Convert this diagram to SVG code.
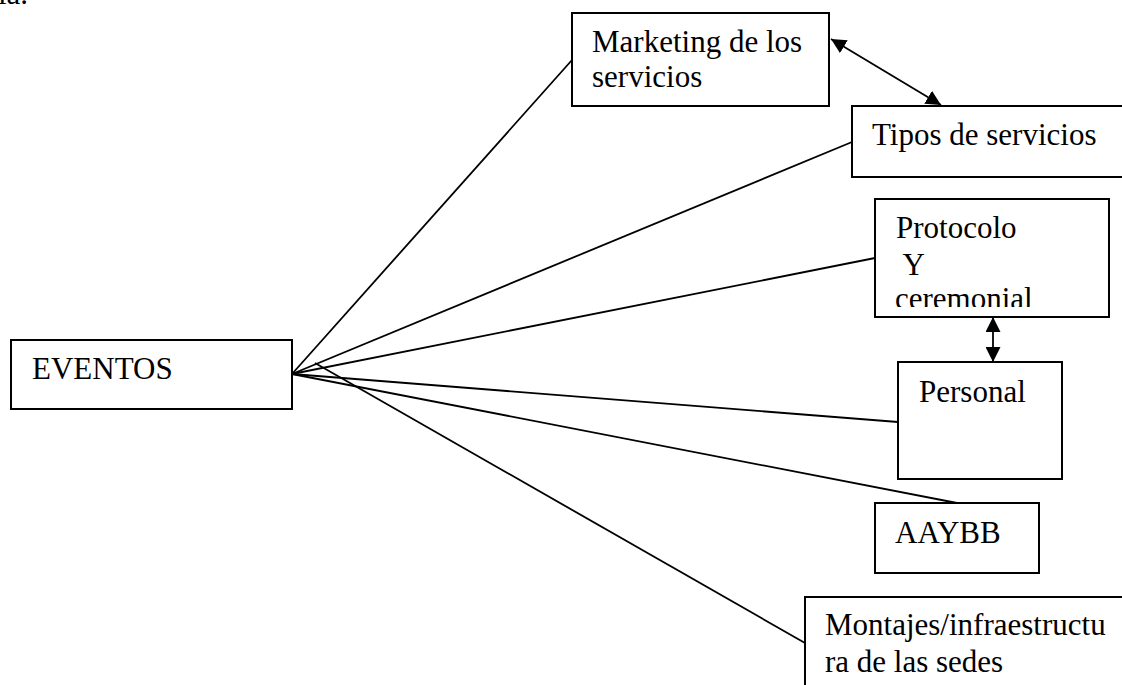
<svg xmlns="http://www.w3.org/2000/svg" width="1122" height="685" viewBox="0 0 1122 685">
<style>
.box{fill:#fff;stroke:#000;stroke-width:2}
.t{font-family:"Liberation Serif","Times New Roman",serif;font-size:31px;fill:#000}
.c{stroke:#000;stroke-width:1.8;fill:none}
</style>
<defs>
<marker id="ah2" viewBox="0 0 10 10" refX="10" refY="5" markerWidth="15" markerHeight="15" markerUnits="userSpaceOnUse" orient="auto-start-reverse">
<path d="M0,0 L10,5 L0,10 z" fill="#000"/>
</marker>
<clipPath id="clipP"><rect x="876" y="200" width="232" height="107"/></clipPath>
</defs>
<rect width="1122" height="685" fill="#fff"/>
<text class="t" x="-2" y="4">ia.</text>
<g id="connectors">
<line class="c" x1="292" y1="374" x2="572" y2="60"/>
<line class="c" x1="292" y1="374" x2="852" y2="142"/>
<line class="c" x1="292" y1="374" x2="875" y2="258"/>
<line class="c" x1="292" y1="374" x2="898" y2="422"/>
<line class="c" x1="292" y1="374" x2="957" y2="503"/>
<line class="c" x1="315" y1="363" x2="805" y2="643"/>
<line class="c" x1="831" y1="39" x2="941" y2="105" marker-start="url(#ah2)" marker-end="url(#ah2)"/>
<line class="c" x1="993" y1="317" x2="993" y2="362" marker-start="url(#ah2)" marker-end="url(#ah2)"/>
</g>
<g id="eventos">
<rect class="box" x="11" y="340" width="281" height="69"/>
<text class="t" x="32" y="379">EVENTOS</text>
</g>
<g id="marketing">
<rect class="box" x="572" y="13" width="257" height="93"/>
<text class="t" x="592" y="52">Marketing de los</text>
<text class="t" x="592" y="87">servicios</text>
</g>
<g id="tipos">
<rect class="box" x="852" y="106" width="272" height="71"/>
<text class="t" x="872" y="145">Tipos de servicios</text>
</g>
<g id="protocolo">
<rect class="box" x="875" y="199" width="234" height="118"/>
<g clip-path="url(#clipP)">
<text class="t" x="896" y="238">Protocolo</text>
<text class="t" x="896" y="275" xml:space="preserve"> Y</text>
<text class="t" x="895" y="309">ceremonial</text>
</g>
</g>
<g id="personal">
<rect class="box" x="898" y="362" width="164" height="117"/>
<text class="t" x="919" y="402">Personal</text>
</g>
<g id="aaybb">
<rect class="box" x="875" y="503" width="164" height="70"/>
<text class="t" x="895" y="543">AAYBB</text>
</g>
<g id="montajes">
<rect class="box" x="805" y="597" width="320" height="100"/>
<text class="t" x="825" y="635">Montajes/infraestructu</text>
<text class="t" x="825" y="672">ra de las sedes</text>
</g>
</svg>
